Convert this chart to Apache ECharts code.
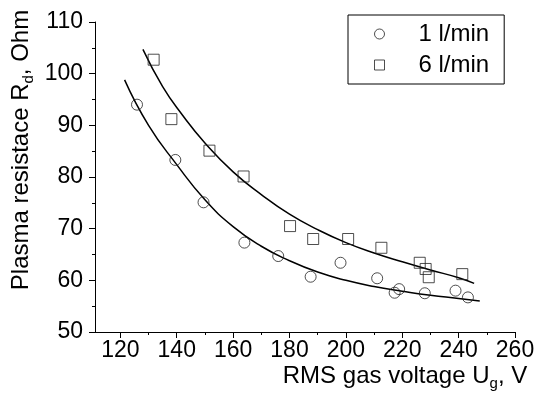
<!DOCTYPE html>
<html>
<head>
<meta charset="utf-8">
<script src="https://cdn.jsdelivr.net/npm/echarts@6/dist/echarts.min.js"></script>
<style>html,body{margin:0;padding:0;background:#fff}#c{width:534px;height:398px}</style>
</head>
<body>
<div id="c"></div>
<script>
// ---- data ----
var seriesNames = ['1 l/min', '6 l/min'];
var x1 = [125.9, 139.5, 149.5, 164.0, 176.0, 187.5, 198.1, 211.1, 217.3, 218.9, 228.0, 238.9, 243.3];
var y1 = [94.0, 83.3, 75.1, 67.3, 64.7, 60.7, 63.4, 60.4, 57.6, 58.3, 57.5, 58.0, 56.7];
var x6 = [131.8, 138.1, 151.6, 163.7, 180.2, 188.4, 200.8, 212.6, 226.2, 228.3, 229.4, 241.3];
var y6 = [102.7, 91.2, 85.1, 80.1, 70.5, 68.0, 68.0, 66.3, 63.4, 62.2, 60.6, 61.2];
// fitted curves
var fit1x = [121.5, 130, 140, 150, 160, 170, 180, 190, 200, 210, 220, 230, 240, 247.5];
var fit1y = [98.8, 90.0, 82.4, 75.6, 70.4, 66.6, 63.8, 61.6, 60.0, 58.8, 57.9, 57.1, 56.5, 56.0];
var fit6x = [128, 135, 142, 150, 160, 170, 180, 190, 200, 210, 220, 230, 240, 245.5];
var fit6y = [104.7, 97.5, 92.0, 86.6, 81.0, 76.6, 72.8, 69.8, 67.3, 65.3, 63.6, 62.0, 60.5, 59.4];
var xMajorTicks = [120, 140, 160, 180, 200, 220, 240, 260];
var xMinorTicks = [130, 150, 170, 190, 210, 230, 250];

function pairs(xs, ys) { return xs.map(function (x, i) { return [x, ys[i]]; }); }

var FONT = 'Liberation Sans, Arial, sans-serif';
var chart = echarts.init(document.getElementById('c'), null, { renderer: 'canvas' });
chart.setOption({
  animation: false,
  backgroundColor: '#fff',
  grid: { left: 95, right: 19, top: 22, bottom: 66, containLabel: false, outerBoundsMode: 'none' },
  legend: {
    orient: 'vertical',
    left: 348, top: 15,
    padding: [7, 15, 7, 26],
    itemGap: 7,
    itemWidth: 10, itemHeight: 10,
    borderColor: '#000', borderWidth: 1,
    textStyle: { fontFamily: FONT, fontSize: 24, color: '#000', lineHeight: 24, padding: [0, 0, 0, 29] },
    data: [
      { name: seriesNames[0], icon: 'circle', itemStyle: { color: 'rgba(0,0,0,0)', borderColor: '#222', borderWidth: 1 } },
      { name: seriesNames[1], icon: 'rect', itemStyle: { color: 'rgba(0,0,0,0)', borderColor: '#222', borderWidth: 1 } }
    ]
  },
  xAxis: [{
    type: 'value', min: 111, max: 260, position: 'bottom',
    axisLine: { lineStyle: { color: '#000', width: 1 } },
    axisTick: { customValues: xMajorTicks, length: 6, lineStyle: { color: '#000' } },
    axisLabel: { customValues: xMajorTicks, margin: 7, fontFamily: FONT, fontSize: 23, color: '#000' },
    splitLine: { show: false },
    name: '{a|RMS gas voltage U}{s|g}{a|, V}',
    nameLocation: 'middle', nameGap: 30, nameMoveOverlap: false,
    nameTextStyle: {
      padding: [0, 0, 0, 200],
      rich: {
        a: { fontFamily: FONT, fontSize: 24, color: '#000', lineHeight: 28 },
        s: { fontFamily: FONT, fontSize: 15, color: '#000', lineHeight: 28, padding: [16, 0, 0, 0] }
      }
    }
  }, {
    type: 'value', min: 111, max: 260, position: 'bottom',
    axisLine: { show: false },
    axisTick: { customValues: xMinorTicks, length: 3, lineStyle: { color: '#000' } },
    axisLabel: { show: false },
    splitLine: { show: false }
  }],
  yAxis: {
    type: 'value', min: 50, max: 110, interval: 10,
    axisLine: { show: true, lineStyle: { color: '#000', width: 1 } },
    axisTick: { show: true, length: 6, lineStyle: { color: '#000' } },
    minorTick: { show: true, splitNumber: 2, length: 3, lineStyle: { color: '#000' } },
    axisLabel: { margin: 12, fontFamily: FONT, fontSize: 23, color: '#000' },
    splitLine: { show: false },
    name: '{a|Plasma resistace R}{s|d}{a|, Ohm}',
    nameLocation: 'middle', nameRotate: 90, nameGap: 60, nameMoveOverlap: false,
    nameTextStyle: {
      padding: [0, 0, 0, 54],
      rich: {
        a: { fontFamily: FONT, fontSize: 24, color: '#000', lineHeight: 28 },
        s: { fontFamily: FONT, fontSize: 15, color: '#000', lineHeight: 28, padding: [16, 0, 0, 0] }
      }
    }
  },
  series: [
    {
      name: seriesNames[0], type: 'scatter', symbol: 'circle', symbolSize: 11,
      itemStyle: { color: 'rgba(0,0,0,0)', borderColor: '#222', borderWidth: 1 },
      data: pairs(x1, y1), z: 3
    },
    {
      name: seriesNames[1], type: 'scatter', symbol: 'rect', symbolSize: 11,
      itemStyle: { color: 'rgba(0,0,0,0)', borderColor: '#222', borderWidth: 1 },
      data: pairs(x6, y6), z: 3
    },
    {
      name: 'fit1', type: 'line', smooth: true, showSymbol: false, symbol: 'none',
      lineStyle: { color: '#000', width: 1.5 }, data: pairs(fit1x, fit1y), z: 2
    },
    {
      name: 'fit6', type: 'line', smooth: true, showSymbol: false, symbol: 'none',
      lineStyle: { color: '#000', width: 1.5 }, data: pairs(fit6x, fit6y), z: 2
    }
  ]
});
</script>
</body>
</html>
